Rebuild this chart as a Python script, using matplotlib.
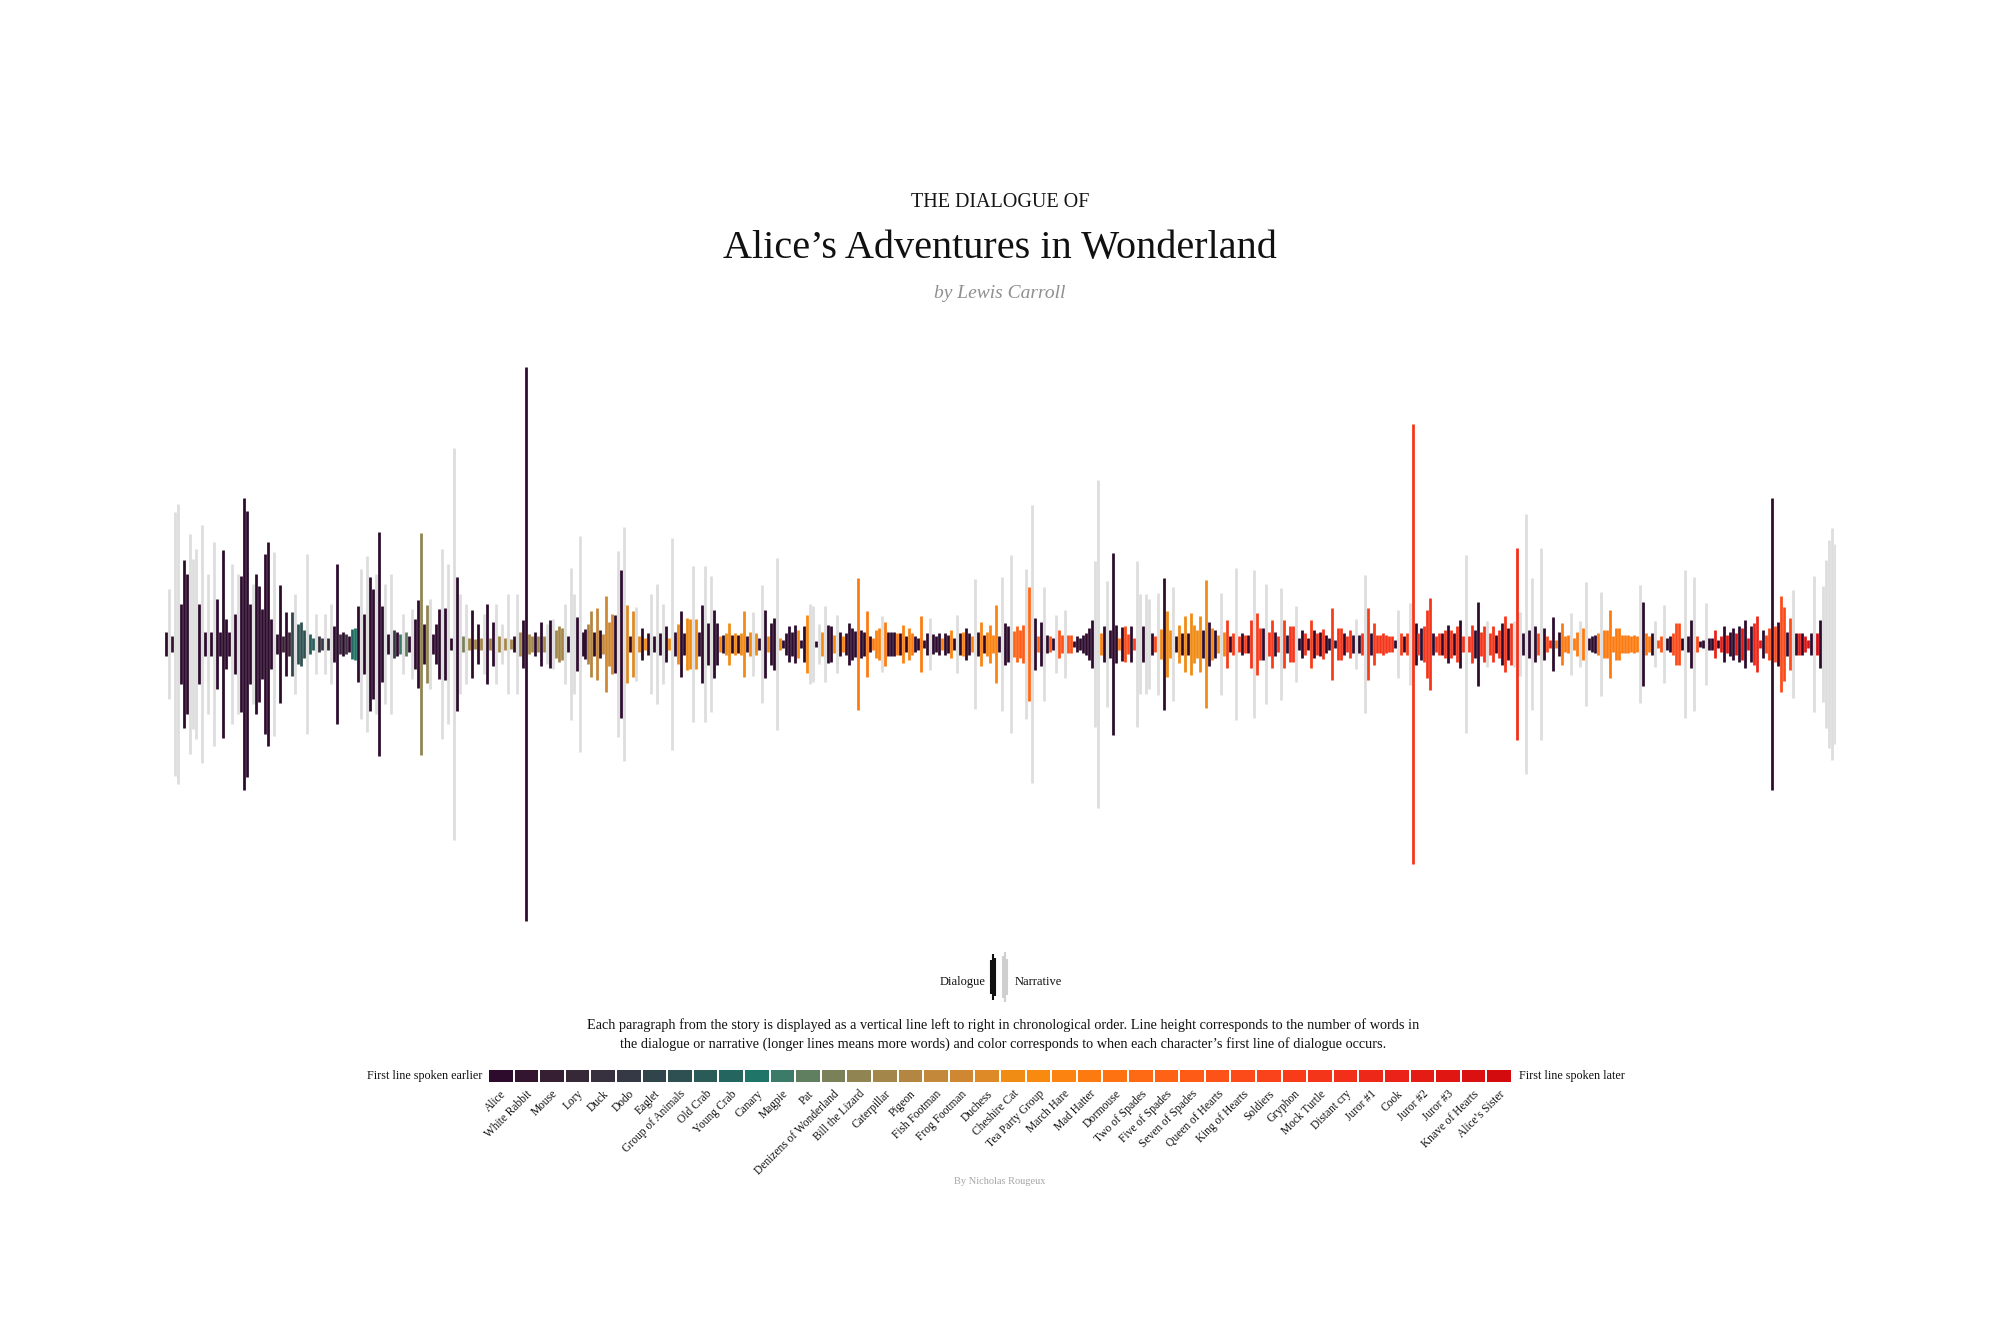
import numpy as np
import matplotlib
matplotlib.use("Agg")
import matplotlib.pyplot as plt

plt.rcParams['font.family'] = ['Liberation Serif', 'DejaVu Serif']

# ---------------- characters (ordered by first line of dialogue) ----------------
characters = ["Alice", "White Rabbit", "Mouse", "Lory", "Duck", "Dodo", "Eaglet",
              "Group of Animals", "Old Crab", "Young Crab", "Canary", "Magpie", "Pat",
              "Denizens of Wonderland", "Bill the Lizard", "Caterpillar", "Pigeon",
              "Fish Footman", "Frog Footman", "Duchess", "Cheshire Cat", "Tea Party Group",
              "March Hare", "Mad Hatter", "Dormouse", "Two of Spades", "Five of Spades",
              "Seven of Spades", "Queen of Hearts", "King of Hearts", "Soldiers", "Gryphon",
              "Mock Turtle", "Distant cry", "Juror #1", "Cook", "Juror #2", "Juror #3",
              "Knave of Hearts", "Alice\u2019s Sister"]
character_colors = ["#2c0b2c", "#33152f", "#361f33", "#372838", "#36303f", "#353845",
                    "#31444c", "#2e5053", "#2a5b59", "#24665f", "#1e7568", "#3c7b68",
                    "#5f7f60", "#7a8159", "#908452", "#a3864a", "#b38742", "#c3883a",
                    "#cf8831", "#de8a26", "#f08b13", "#f98a10", "#fc8310", "#fd7a10",
                    "#fe7212", "#fe6a14", "#fe6315", "#fe5b17", "#fd5318", "#fc4b19",
                    "#fa431a", "#f83c1a", "#f5351a", "#f22f19", "#ee2818", "#ea2217",
                    "#e51c15", "#e01613", "#da1011", "#d30a0e"]
NARRATIVE = -1

# ---------------- paragraphs: speaker index (-1 = narrative) and size ----------------
seg1_who = [0,-1,1,-1,-1,0,0,0,-1,-1,-1,0,-1,0,-1,0,-1,0,0,0,0,0,-1,0,-1,0,0,0,0,-1,
            0,0,0,0,0,0,-1,0,0,2,0,2,6,-1,7,7,7,-1,8,8,-1]
seg1_size = [12,55,8,132,140,40,84,70,110,85,95,40,119,12,70,12,102,45,12,94,25,12,80,30,70,
             68,146,133,40,60,70,58,35,90,102,25,92,10,59,8,32,12,32,50,20,22,14,90,10,6,30]

seg2_who = [4,5,-1,3,-1,0,0,3,0,4,0,9,10,0,-1,0,-1,0,0,-1,0,0,-1,0,-1,5,0,11,-1,12,
            0,-1,0,0,14,0,14,-1,0,0,0,-1,0,-1,0,-1,0,-1,13,-1]
seg2_size = [8,6,30,6,40,18,80,10,12,10,8,15,16,38,75,30,88,67,55,70,112,38,60,10,70,
             14,12,10,30,12,8,35,25,44,111,20,39,45,10,20,35,95,36,80,6,196,67,50,8,40]

seg3_who = [15,0,15,0,15,-1,0,15,0,-1,15,-1,15,-1,15,0,-1,15,0,0,15,15,0,15,0,15,-1,0,-1,
            15,15,15,-1,0,-1,-1,0,-1,0,0,16,16,0,17,0,17,18,18,18,0,-1,0,-1,19,0,19,-1,19]
seg3_size = [6,34,5,20,6,30,40,6,22,40,8,20,6,50,5,8,50,12,24,277,10,8,12,8,22,8,20,24,25,
             14,18,16,40,8,76,50,27,108,12,15,20,33,12,36,14,10,48,22,30,29,93,74,117,39,8,33,37,8]

seg4_who = [0,20,0,-1,0,-1,0,-1,0,20,-1,0,20,0,0,20,20,-1,20,0,0,-1,0,-1,0,0,20,0,20,20,
            0,20,0,20,20,0,20,-1,20,0,-1,0,20,0,0,-1,20,0,0,0]
seg4_size = [16,6,11,50,8,60,11,40,18,6,106,12,20,33,11,26,25,78,25,12,39,78,21,68,34,
             21,8,9,11,21,9,11,9,11,33,8,12,32,11,6,59,34,8,21,26,86,6,4,11,18]

seg5_who = [0,0,21,0,0,21,-1,-1,0,-1,21,-1,0,0,21,-1,0,22,0,0,0,0,23,0,0,23,0,23,22,22,
            -1,23,0,0,0,23,0,22,0,22,23,0,0,23,0,0,-1,0,0]
seg5_size = [12,19,14,4,18,29,40,38,3,20,12,38,19,18,9,29,12,8,11,21,16,13,66,14,12,
             33,8,6,14,16,28,22,12,12,12,11,11,19,8,16,11,8,6,28,4,11,26,10,8]

seg6_who = [0,22,0,0,22,0,-1,0,22,0,0,22,-1,0,22,0,22,22,22,22,0,-1,0,0,-1,26,26,27,27,-1,
            25,-1,0,25,0,-1,0,27,0,-1,28,28,-1,28,28,0,0,0,0,0,0,0,-1,-1]
seg6_size = [11,6,11,9,14,6,29,11,12,16,11,8,65,12,22,9,12,19,9,39,8,67,21,18,89,13,18,14,19,75,
             57,139,26,8,22,57,9,8,6,29,14,9,34,9,9,3,8,6,9,11,16,24,83,164]

seg7_who = [22,0,-1,0,0,0,23,0,29,29,0,30,-1,-1,0,-1,-1,0,29,-1,20,0,20,20,-1,0,20,0,20,0,
            20,20,20,20,0,20,0,20,0,20,-1,20,31,0,31,-1,31,0,31]
seg7_size = [11,18,63,14,91,19,6,17,18,10,18,6,83,50,18,50,45,11,8,51,15,66,33,14,57,8,19,11,28,11,
             31,19,14,28,14,64,22,16,14,9,51,12,24,8,11,76,8,11,9]

seg8_who = [0,32,-1,31,32,0,-1,32,31,0,32,-1,31,0,32,32,-1,0,0,32,0,31,0,32,0,32,0,0,31,0,
            32,32,0,32,32,0,-1,0,32,-1,31,0,31,32,32,32,32,32,32,0,-1,31,0,31,-1,32]
seg8_size = [9,24,74,31,16,16,60,12,24,12,8,56,24,9,18,18,38,6,14,11,6,24,14,11,12,15,9,6,36,4,
             16,16,11,8,14,9,25,9,11,69,36,11,21,9,9,11,9,8,8,4,34,11,8,11,41,220]

seg9_who = [0,32,0,32,32,32,0,32,32,0,32,0,32,0,32,0,32,-1,32,32,0,0,32,32,-1,32,32,0,32,0,
            32,0,32,-1,33,-1,0,-1,0,-1,0,29,-1,0,29]
seg9_size = [21,11,16,18,34,46,11,8,11,11,14,19,14,11,18,24,8,89,8,19,14,42,12,18,23,11,18,9,14,21,
             28,16,21,23,96,32,11,130,14,66,18,11,96,16,8]

seg10_who = [34,0,23,0,23,23,23,-1,23,23,-1,23,-1,0,0,0,23,-1,23,23,23,23,23,23,23,23,23,23,23,23,
             -1,0,23,23,0,-1,28,28,-1,0,0,29,29,29,0,-1,0,0,-1,29]
seg10_size = [4,27,4,12,21,8,9,31,6,12,23,16,62,6,8,9,11,52,14,14,34,8,16,16,9,9,9,8,9,8,
              59,42,11,8,11,23,4,8,39,6,8,11,21,21,6,74,8,24,67,8]

seg11_who = [0,0,-1,0,0,35,0,36,0,36,0,0,37,0,37,0,37,0,34,34,37,0,29,29,0,29,0,29,29,0,
             29,-1,0,36,0,37,38,0,-1,39,0,-1,-1,-1,-1,-1]
seg11_size = [3,4,41,6,6,14,4,8,18,9,12,16,11,18,16,24,6,18,21,28,4,14,9,16,146,18,22,48,37,12,
              26,54,11,11,11,8,4,11,68,11,24,58,84,104,116,100]

legend_dialogue = [17, 23, 19]
legend_narrative = [21, 25, 18]

title_small = "THE DIALOGUE OF"
title_main = "Alice\u2019s Adventures in Wonderland"
subtitle = "by Lewis Carroll"
desc_line1 = ("Each paragraph from the story is displayed as a vertical line left to right in chronological "
              "order. Line height corresponds to the number of words in")
desc_line2 = ("the dialogue or narrative (longer lines means more words) and color corresponds to when "
              "each character\u2019s first line of dialogue occurs.")
credit = "By Nicholas Rougeux"

# ---------------- assemble ----------------
who = np.array(seg1_who + seg2_who + seg3_who + seg4_who + seg5_who + seg6_who + seg7_who +
               seg8_who + seg9_who + seg10_who + seg11_who)
size = np.array(seg1_size + seg2_size + seg3_size + seg4_size + seg5_size + seg6_size +
                seg7_size + seg8_size + seg9_size + seg10_size + seg11_size, dtype=float)

W, H = 2000, 1333
fig = plt.figure(figsize=(W / 100, H / 100), dpi=100)
fig.patch.set_facecolor("white")


def px_axes(x0, y0, x1, y1):
    a = fig.add_axes([x0 / W, 1 - y1 / H, (x1 - x0) / W, (y1 - y0) / H])
    a.set_axis_off()
    return a


n = len(size)
step = (1835 - 166) / (n - 1)
ax = px_axes(166 - step / 2, 344, 1835 + step / 2, 944)
ax.set_xlim(-0.5, n - 0.5)
ax.set_ylim(-300, 300)
idx = np.arange(n)
lw = 2.75 * 0.72
narr = who == NARRATIVE
dial = ~narr
ax.vlines(idx[narr], -size[narr], size[narr], colors="#dddddd", linewidth=lw,
          capstyle="butt", zorder=1)
ax.vlines(idx[dial], -size[dial], size[dial],
          colors=[character_colors[k] for k in who[dial]], linewidth=lw,
          capstyle="butt", zorder=2)

# ---------------- titles ----------------
fig.text(1000 / W, 1 - 207 / H, title_small, ha="center", va="baseline",
         fontsize=14.5, color="#151515")
fig.text(1000 / W, 1 - 258 / H, title_main, ha="center", va="baseline",
         fontsize=29, color="#111111")
fig.text(1000 / W, 1 - 298 / H, subtitle, ha="center", va="baseline",
         fontsize=14, style="italic", color="#8f8f8f")

# ---------------- legend ----------------
lax = px_axes(988, 950, 1012, 1004)
lax.set_xlim(-0.5, 11.5)
lax.set_ylim(-27, 27)
ld = np.array(legend_dialogue, dtype=float)
ln = np.array(legend_narrative, dtype=float)
lax.vlines(np.arange(1, 1 + len(ld)), -ld, ld, colors="#111111", linewidth=1.5, capstyle="butt")
lax.vlines(np.arange(7, 7 + len(ln)), -ln, ln, colors="#cfcfcf", linewidth=1.5, capstyle="butt")
fig.text(986 / W, 1 - 982 / H, "Dialogue", ha="right", va="center", fontsize=9, color="#111111")
fig.text(1015 / W, 1 - 982 / H, "Narrative", ha="left", va="center", fontsize=9, color="#111111")

# ---------------- description ----------------
fig.text(1003 / W, 1 - 1029 / H, desc_line1, ha="center", va="baseline", fontsize=10.3, color="#111111")
fig.text(1003 / W, 1 - 1048 / H, desc_line2, ha="center", va="baseline", fontsize=10.3, color="#111111")

# ---------------- colour key ----------------
cax = px_axes(488, 1070, 1512, 1082)
cax.bar(np.arange(len(characters)), np.ones(len(characters)), width=0.92,
        color=character_colors, align="center")
cax.set_xlim(-0.5, len(characters) - 0.5)
cax.set_ylim(0, 1)
for i, name in enumerate(characters):
    cax.text(i + 0.15, -0.85, name, rotation=45, rotation_mode="anchor", ha="right",
             va="center", fontsize=8.3, color="#111111")
fig.text(482 / W, 1 - 1076 / H, "First line spoken earlier", ha="right", va="center",
         fontsize=8.7, color="#111111")
fig.text(1519 / W, 1 - 1076 / H, "First line spoken later", ha="left", va="center",
         fontsize=8.7, color="#111111")

fig.text(1000 / W, 1 - 1181 / H, credit, ha="center", va="center", fontsize=7.5, color="#a6a6a6")

fig.savefig("out.png", dpi=100, facecolor="white")
